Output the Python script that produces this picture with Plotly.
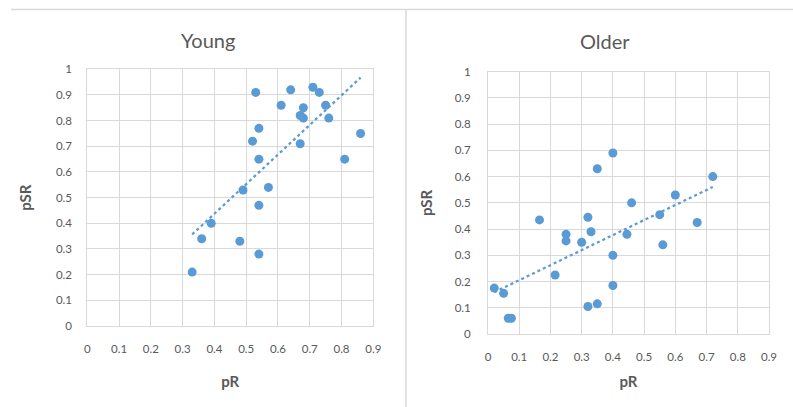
import numpy as np
import plotly.graph_objects as go

# Young group
young_pr = [0.33, 0.36, 0.39, 0.48, 0.49, 0.54, 0.54, 0.57, 0.54, 0.52, 0.54, 0.53,
            0.61, 0.64, 0.67, 0.67, 0.68, 0.68, 0.71, 0.73, 0.75, 0.76, 0.81, 0.86]
young_psr = [0.21, 0.34, 0.40, 0.33, 0.53, 0.28, 0.47, 0.54, 0.65, 0.72, 0.77, 0.91,
             0.86, 0.92, 0.71, 0.82, 0.81, 0.85, 0.93, 0.91, 0.86, 0.81, 0.65, 0.75]

# Older group
older_pr = [0.02, 0.05, 0.065, 0.075, 0.165, 0.215, 0.25, 0.25, 0.30, 0.32, 0.33, 0.32,
            0.35, 0.35, 0.40, 0.40, 0.40, 0.445, 0.46, 0.55, 0.56, 0.60, 0.67, 0.72]
older_psr = [0.175, 0.155, 0.06, 0.06, 0.435, 0.225, 0.38, 0.355, 0.35, 0.445, 0.39, 0.105,
             0.115, 0.63, 0.69, 0.30, 0.185, 0.38, 0.50, 0.455, 0.34, 0.53, 0.425, 0.60]

x_ticks = [0, 0.1, 0.2, 0.3, 0.4, 0.5, 0.6, 0.7, 0.8, 0.9]
y_ticks = [0, 0.1, 0.2, 0.3, 0.4, 0.5, 0.6, 0.7, 0.8, 0.9, 1]
titles = ["Young", "Older"]

BLUE = "#5b9bd5"
GRID = "#d9d9d9"
TEXT = "#595959"
FONT = "Lato, Open Sans, sans-serif"

W, H = 793, 407

fig = go.Figure()


def add_panel(xs, ys, idx):
    xa = "x" if idx == 1 else "x2"
    ya = "y" if idx == 1 else "y2"
    fig.add_trace(go.Scatter(x=xs, y=ys, mode="markers", xaxis=xa, yaxis=ya,
                             marker=dict(color=BLUE, size=9), showlegend=False,
                             hoverinfo="x+y"))
    # linear trendline over the data's x range
    slope, intercept = np.polyfit(xs, ys, 1)
    tx = [min(xs), max(xs)]
    ty = [slope * v + intercept for v in tx]
    fig.add_trace(go.Scatter(x=tx, y=ty, mode="lines", xaxis=xa, yaxis=ya,
                             line=dict(color=BLUE, width=2.25, dash="dot"),
                             showlegend=False, hoverinfo="skip"))


add_panel(young_pr, young_psr, 1)
add_panel(older_pr, older_psr, 2)


def px_dom_x(a, b):
    return [a / W, b / W]


def px_dom_y(top, bottom):
    return [1 - bottom / H, 1 - top / H]


axis_common = dict(showgrid=True, gridcolor=GRID, gridwidth=1, zeroline=False,
                   showline=True, linecolor=GRID, linewidth=1, mirror=True,
                   tickfont=dict(family=FONT, size=11.5, color=TEXT), ticks="",
                   tickmode="array", automargin=False)

title_font = dict(family=FONT, size=15, color=TEXT)

fig.update_layout(
    width=W, height=H,
    margin=dict(l=0, r=0, t=0, b=0),
    paper_bgcolor="white", plot_bgcolor="white",
    font=dict(family=FONT, color=TEXT),
    xaxis=dict(domain=px_dom_x(87.3, 373.3), range=[0, 0.9], tickvals=x_ticks,
               ticktext=[f"{v:g}" for v in x_ticks], ticklabelstandoff=12,
               title=dict(text="<b>pR</b>", font=title_font, standoff=22),
               **axis_common),
    yaxis=dict(domain=px_dom_y(69.3, 326), range=[0, 1], tickvals=y_ticks,
               ticktext=[f"{v:g}" for v in y_ticks], ticklabelstandoff=12,
               title=dict(text="<b>pSR</b>", font=title_font, standoff=20),
               **axis_common),
    xaxis2=dict(domain=px_dom_x(488, 769), range=[0, 0.9], tickvals=x_ticks,
                ticktext=[f"{v:g}" for v in x_ticks], ticklabelstandoff=12, anchor="y2",
                title=dict(text="<b>pR</b>", font=title_font, standoff=14),
                **axis_common),
    yaxis2=dict(domain=px_dom_y(71.7, 334), range=[0, 1], tickvals=y_ticks,
                ticktext=[f"{v:g}" for v in y_ticks], ticklabelstandoff=14, anchor="x2",
                title=dict(text="<b>pSR</b>", font=title_font, standoff=18),
                **axis_common),
    annotations=[
        dict(text=titles[0], x=208 / W, y=1 - 40 / H, xref="paper", yref="paper",
             xanchor="center", yanchor="middle", showarrow=False,
             font=dict(family=FONT, size=20, color=TEXT)),
        dict(text=titles[1], x=605 / W, y=1 - 41 / H, xref="paper", yref="paper",
             xanchor="center", yanchor="middle", showarrow=False,
             font=dict(family=FONT, size=20, color=TEXT)),
    ],
    shapes=[
        dict(type="line", xref="paper", yref="paper", x0=11 / W, x1=1,
             y0=1 - 9.5 / H, y1=1 - 9.5 / H, line=dict(color=GRID, width=1.5)),
        dict(type="line", xref="paper", yref="paper", x0=406 / W, x1=406 / W,
             y0=0, y1=1 - 9.5 / H, line=dict(color=GRID, width=1.5)),
    ],
)

fig.write_html("out.html")
